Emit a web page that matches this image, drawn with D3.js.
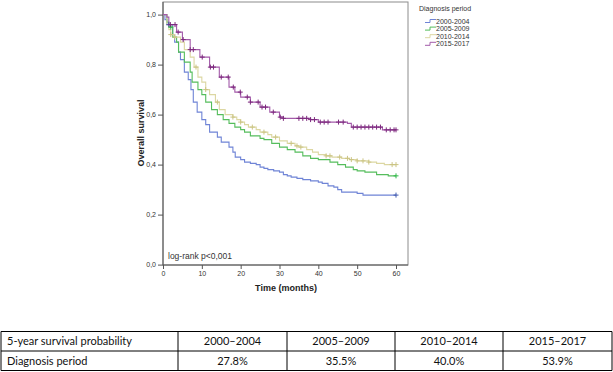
<!DOCTYPE html>
<html>
<head>
<meta charset="utf-8">
<script src="https://cdn.jsdelivr.net/npm/d3@7"></script>
<style>
  body { margin: 0; background: #fff; }
  svg { display: block; }
</style>
</head>
<body>
<div id="chart"></div>
<script>
// groups + summary table
var periods = ["2000-2004", "2005-2009", "2010-2014", "2015-2017"];
var periodLabels = ["2000\u20132004", "2005\u20132009", "2010\u20132014", "2015\u20132017"];
var fiveYear = ["27.8%", "35.5%", "40.0%", "53.9%"];
var lineColors = ["#6f84d6", "#55bd5c", "#dcd7a2", "#a35aa9"];
var markColors = ["#3e58ac", "#2eb848", "#cbc484", "#7c287d"];

// step curves: [months, survival]
var surv2000 = [[0,1],[0.5,0.98],[1,0.96],[2.5,0.92],[3,0.89],[4,0.85],[4.5,0.82],[5.5,0.77],[6.5,0.74],
  [7.2,0.70],[7.8,0.65],[8.8,0.61],[10,0.58],[11,0.56],[12,0.53],[14,0.51],[15,0.49],[17,0.47],[18,0.45],
  [18.6,0.43],[20,0.42],[21,0.41],[22.5,0.405],[24,0.40],[25,0.39],[26,0.385],[27,0.38],[28.5,0.375],
  [30,0.37],[31,0.36],[32,0.355],[33,0.35],[34.5,0.345],[36,0.34],[38,0.335],[40,0.33],[41,0.325],
  [42.5,0.315],[44,0.31],[45,0.30],[46,0.29],[50,0.285],[51.5,0.278],[60,0.278]];
var surv2005 = [[0,1],[1,0.97],[1.5,0.95],[2.5,0.91],[3.5,0.89],[4,0.85],[5.5,0.81],[7,0.77],[7.5,0.73],
  [9,0.70],[10,0.68],[11,0.65],[12.5,0.62],[14,0.60],[15.5,0.58],[17,0.565],[18.5,0.55],[20,0.54],
  [21,0.53],[22.5,0.515],[25,0.505],[26,0.50],[28,0.485],[30,0.47],[32,0.46],[34,0.45],[36,0.435],
  [38,0.425],[40,0.42],[43,0.41],[45,0.40],[47,0.39],[49,0.38],[50,0.375],[52,0.37],[55,0.36],
  [58,0.355],[60,0.355]];
var surv2010 = [[0,1],[1,0.96],[1.5,0.94],[2,0.92],[3,0.91],[4.5,0.89],[5.5,0.86],[7,0.83],[8,0.79],
  [9,0.75],[10,0.73],[11,0.70],[12,0.68],[13.5,0.65],[14.5,0.62],[16,0.60],[18,0.59],[19,0.58],
  [20,0.57],[21,0.56],[22,0.55],[24,0.54],[25,0.53],[27,0.52],[28,0.51],[30,0.495],[32,0.485],
  [34,0.475],[35,0.47],[37,0.46],[38.5,0.45],[40,0.44],[42,0.435],[43.5,0.43],[46,0.425],[48,0.42],
  [50,0.415],[53,0.41],[55,0.405],[57,0.40],[60,0.40]];
var surv2015 = [[0,1],[1,0.99],[1.5,0.96],[3.5,0.93],[5,0.90],[7,0.86],[9.5,0.83],[12,0.79],[14.5,0.75],
  [17,0.71],[18.5,0.69],[20,0.67],[22.5,0.65],[25,0.63],[27.5,0.61],[30,0.59],[31,0.585],[38,0.58],
  [40,0.57],[47.5,0.565],[48.5,0.55],[56.5,0.539],[60,0.539]];

// censored times (+ marks)
var cens2000 = [1.5, 60];
var cens2005 = [2, 60];
var cens2010 = [2, 3, 8.5, 11, 14, 18, 20, 23, 26, 29, 33, 34.5, 35.5, 42, 43, 45.5, 47.5, 48.5, 50,
  51.5, 53, 59, 60];
var cens2015 = [1.9, 3.1, 3.9, 5.2, 7, 7.8, 10.1, 12.2, 13, 15, 16.8, 18.1, 19.9, 21.7, 22.5, 24.5,
  25.5, 26.4, 28.4, 30.2, 31, 35, 36, 37, 38, 39, 40.5, 41.5, 42.5, 45.2, 46.4, 49, 50, 51, 52, 53,
  54, 55, 56, 57.5, 58.5, 59.5, 60];

var xTicks = [0, 10, 20, 30, 40, 50, 60];
var yTicks = [0, 0.2, 0.4, 0.6, 0.8, 1.0];

var curves = [surv2000, surv2005, surv2010, surv2015];
var censors = [cens2000, cens2005, cens2010, cens2015];

var width = 613, height = 372;
var svg = d3.select("#chart").append("svg")
  .attr("width", width).attr("height", height);
svg.append("rect").attr("width", width).attr("height", height).attr("fill", "#fff");

var x = d3.scaleLinear().domain([0, 60]).range([163, 396]);
var y = d3.scaleLinear().domain([0, 1]).range([264.6, 14.6]);

// plot frame
svg.append("rect")
  .attr("x", 163).attr("y", 2).attr("width", 245).attr("height", 263)
  .attr("fill", "none").attr("stroke", "#8c8c8c").attr("stroke-width", 1);

var fmt = function(d) { return d3.format(".1f")(d).replace(".", ","); };

var yAxis = svg.append("g")
  .attr("transform", "translate(163,0)")
  .call(d3.axisLeft(y).tickValues(yTicks).tickFormat(fmt).tickSize(5).tickPadding(2).tickSizeOuter(0));
var xAxis = svg.append("g")
  .attr("transform", "translate(0,265)")
  .call(d3.axisBottom(x).tickValues(xTicks).tickSize(4).tickPadding(2).tickSizeOuter(0));

[xAxis, yAxis].forEach(function(g) {
  g.select(".domain").remove();
  g.selectAll("line").attr("stroke", "#555");
  g.selectAll("text").attr("fill", "#333")
    .style("font-family", "'Liberation Sans', Arial, sans-serif").style("font-size", "7px");
});
svg.append("line").attr("x1", 163).attr("x2", 163).attr("y1", 2).attr("y2", 265)
  .attr("stroke", "#555");
svg.append("line").attr("x1", 163).attr("x2", 408).attr("y1", 265).attr("y2", 265)
  .attr("stroke", "#555");

// curves
var line = d3.line()
  .x(function(d) { return x(d[0]); })
  .y(function(d) { return y(d[1]); })
  .curve(d3.curveStepAfter);

function survAt(curve, t) {
  var s = curve[0][1];
  curve.forEach(function(p) { if (p[0] <= t) s = p[1]; });
  return s;
}

curves.forEach(function(curve, i) {
  svg.append("path")
    .datum(curve)
    .attr("fill", "none")
    .attr("stroke", lineColors[i])
    .attr("stroke-width", 1.1)
    .attr("d", line);
});

curves.forEach(function(curve, i) {
  var g = svg.append("g");
  g.selectAll("path")
    .data(censors[i])
    .enter().append("path")
    .attr("d", function(t) {
      var cx = x(t), cy = y(survAt(curve, t));
      return "M" + (cx - 2.5) + "," + cy + "H" + (cx + 2.5) + "M" + cx + "," + (cy - 2.5) + "V" + (cy + 2.5);
    })
    .attr("stroke", markColors[i])
    .attr("stroke-width", 1);
});

// labels
var labFont = "'Liberation Sans', Arial, sans-serif";
svg.append("text")
  .attr("x", 168).attr("y", 259)
  .attr("fill", "#333")
  .style("font-family", labFont).style("font-size", "8.5px")
  .text("log-rank p<0,001");

svg.append("text")
  .attr("x", 286).attr("y", 291)
  .attr("text-anchor", "middle")
  .attr("fill", "#222")
  .style("font-family", labFont).style("font-size", "9px").style("font-weight", "bold")
  .text("Time (months)");

svg.append("text")
  .attr("transform", "translate(144,133) rotate(-90)")
  .attr("text-anchor", "middle")
  .attr("fill", "#222")
  .style("font-family", labFont).style("font-size", "9px").style("font-weight", "bold")
  .text("Overall survival");

// legend
var legend = svg.append("g");
legend.append("text")
  .attr("x", 419).attr("y", 11)
  .attr("fill", "#333")
  .style("font-family", labFont).style("font-size", "7px")
  .text("Diagnosis period");

var items = legend.selectAll("g.item")
  .data(periods)
  .enter().append("g")
  .attr("class", "item")
  .attr("transform", function(d, i) { return "translate(0," + (21 + i * 7.6) + ")"; });
items.append("path")
  .attr("d", "M425,1.5H430V-1.5H436")
  .attr("fill", "none")
  .attr("stroke", function(d, i) { return lineColors[i]; })
  .attr("stroke-width", 1);
items.append("text")
  .attr("x", 436).attr("y", 2.5)
  .attr("fill", "#333")
  .style("font-family", labFont).style("font-size", "7px")
  .text(function(d) { return d; });

// table
var colEdges = [1, 178, 287, 395, 503, 612];
var rowEdges = [331.5, 351, 370.5];
var tbl = svg.append("g").attr("stroke", "#000").attr("stroke-width", 1);
rowEdges.forEach(function(r) {
  tbl.append("line").attr("x1", colEdges[0]).attr("x2", colEdges[5]).attr("y1", r).attr("y2", r);
});
colEdges.forEach(function(c) {
  tbl.append("line").attr("x1", c).attr("x2", c).attr("y1", rowEdges[0]).attr("y2", rowEdges[2]);
});

var tblFont = "Lato, 'Open Sans', sans-serif";
var tblSize = "11px";
svg.append("text").attr("x", 7).attr("y", 345)
  .style("font-family", tblFont).style("font-size", tblSize).attr("fill", "#111")
  .text("5-year survival probability");
svg.append("text").attr("x", 7).attr("y", 364.5)
  .style("font-family", tblFont).style("font-size", tblSize).attr("fill", "#111")
  .text("Diagnosis period");

svg.selectAll("text.hdr")
  .data(periodLabels)
  .enter().append("text")
  .attr("class", "hdr")
  .attr("x", function(d, i) { return (colEdges[i + 1] + colEdges[i + 2]) / 2; })
  .attr("y", 345)
  .attr("text-anchor", "middle")
  .style("font-family", tblFont).style("font-size", tblSize).attr("fill", "#111")
  .text(function(d) { return d; });

svg.selectAll("text.val")
  .data(fiveYear)
  .enter().append("text")
  .attr("class", "val")
  .attr("x", function(d, i) { return (colEdges[i + 1] + colEdges[i + 2]) / 2; })
  .attr("y", 364.5)
  .attr("text-anchor", "middle")
  .style("font-family", tblFont).style("font-size", tblSize).attr("fill", "#111")
  .text(function(d) { return d; });
</script>
</body>
</html>
